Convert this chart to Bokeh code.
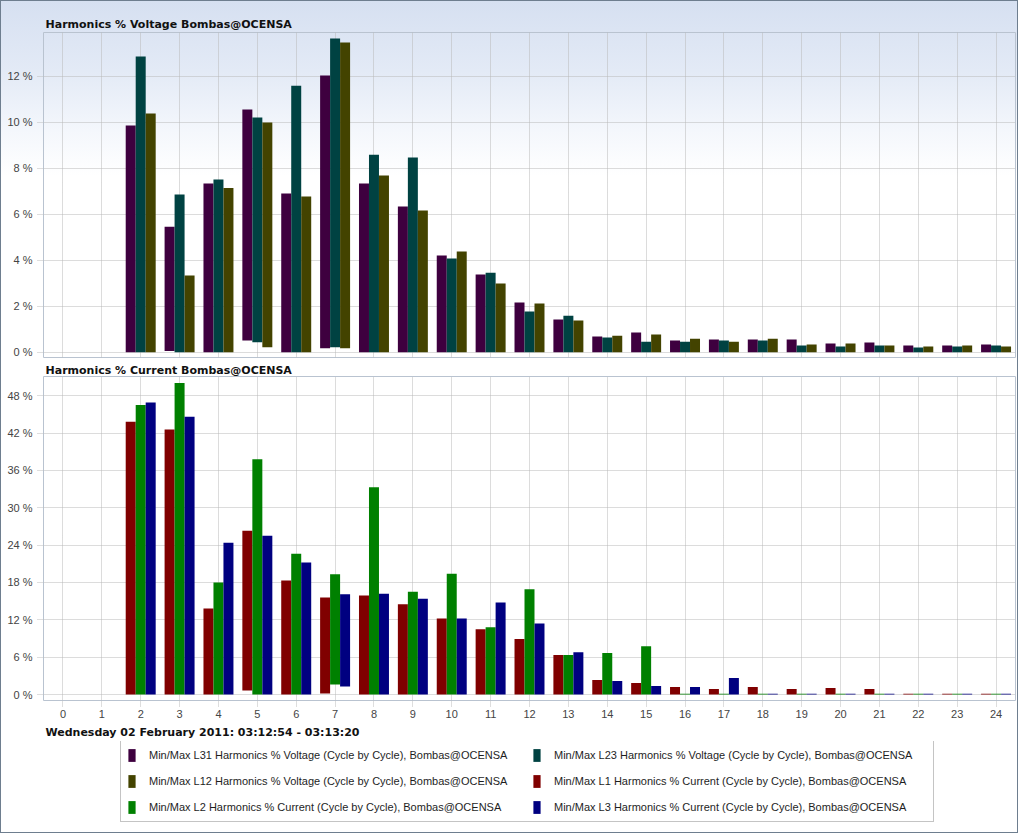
from bokeh.plotting import figure
from bokeh.models import (ColumnDataSource, Range1d, FixedTicker, Legend, LegendItem,
                          Title, PrintfTickFormatter)
from bokeh.transform import dodge
from bokeh.layouts import column
from bokeh.embed import file_html
from bokeh.resources import INLINE

nan = float("nan")
harmonics = list(range(25))

# Voltage harmonics (%), min / max per harmonic order
v_l31_max = [nan, nan, 9.86, 5.46, 7.33, 10.55, 6.90, 12.03, 7.33, 6.33, 4.20, 3.38, 2.16, 1.42,
             0.68, 0.86, 0.51, 0.55, 0.55, 0.55, 0.38, 0.42, 0.29, 0.29, 0.33]
v_l31_min = [nan, nan, 0, 0.05, 0, 0.51, 0, 0.17, 0, 0, 0, 0, 0, 0, 0, 0, 0, 0, 0, 0, 0, 0, 0, 0, 0]
v_l23_max = [nan, nan, 12.86, 6.86, 7.51, 10.20, 11.59, 13.64, 8.59, 8.46, 4.07, 3.46, 1.77, 1.59,
             0.64, 0.46, 0.46, 0.51, 0.51, 0.29, 0.25, 0.29, 0.20, 0.25, 0.29]
v_l23_min = [nan, nan, 0, 0, 0, 0.43, 0, 0.22, 0, 0, 0, 0, 0, 0, 0, 0, 0, 0, 0, 0, 0, 0, 0, 0, 0]
v_l12_max = [nan, nan, 10.38, 3.33, 7.14, 9.99, 6.77, 13.46, 7.68, 6.16, 4.38, 2.99, 2.12, 1.38,
             0.72, 0.77, 0.59, 0.46, 0.59, 0.33, 0.38, 0.29, 0.25, 0.29, 0.25]
v_l12_min = [nan, nan, 0, 0, 0, 0.22, 0, 0.17, 0, 0, 0, 0, 0, 0, 0, 0, 0, 0, 0, 0, 0, 0, 0, 0, 0]

# Current harmonics (%), min / max per harmonic order
i_l1_max = [nan, nan, 43.8, 42.55, 13.8, 26.3, 18.3, 15.6, 15.9, 14.5, 12.2, 10.5, 8.9, 6.33,
            2.34, 1.86, 1.22, 0.9, 1.22, 0.9, 1.06, 0.9, 0.12, 0.12, 0.12]
i_l1_min = [nan, nan, 0, 0, 0, 0.64, 0, 0.16, 0, 0, 0, 0, 0, 0, 0, 0, 0, 0, 0, 0, 0, 0, 0, 0, 0]
i_l2_max = [nan, nan, 46.5, 50.05, 17.98, 37.8, 22.6, 19.3, 33.3, 16.5, 19.4, 10.8, 16.9, 6.33,
            6.65, 7.77, 0.12, 0.12, 0.12, 0.12, 0.12, 0.12, 0.12, 0.12, 0.12]
i_l2_min = [nan, nan, 0, 0, 0, 0, 0, 1.6, 0, 0, 0, 0, 0, 0, 0, 0, 0, 0, 0, 0, 0, 0, 0, 0, 0]
i_l3_max = [nan, nan, 46.9, 44.6, 24.36, 25.5, 21.2, 16.1, 16.2, 15.4, 12.2, 14.8, 11.4, 6.8,
            2.18, 1.38, 1.22, 2.66, 0.12, 0.12, 0.12, 0.12, 0.12, 0.12, 0.12]
i_l3_min = [nan, nan, 0, 0, 0, 0, 0, 1.28, 0, 0, 0, 0, 0, 0, 0, 0, 0, 0, 0, 0, 0, 0, 0, 0, 0]

v_ticks = [0, 2, 4, 6, 8, 10, 12]
i_ticks = [0, 6, 12, 18, 24, 30, 36, 42, 48]

labels = {
    "l31": "Min/Max L31 Harmonics % Voltage (Cycle by Cycle), Bombas@OCENSA",
    "l23": "Min/Max L23 Harmonics % Voltage (Cycle by Cycle), Bombas@OCENSA",
    "l12": "Min/Max L12 Harmonics % Voltage (Cycle by Cycle), Bombas@OCENSA",
    "l1": "Min/Max L1 Harmonics % Current (Cycle by Cycle), Bombas@OCENSA",
    "l2": "Min/Max L2 Harmonics % Current (Cycle by Cycle), Bombas@OCENSA",
    "l3": "Min/Max L3 Harmonics % Current (Cycle by Cycle), Bombas@OCENSA",
}
colors = {"l31": "#3e003f", "l23": "#004242", "l12": "#434300",
          "l1": "#800000", "l2": "#008000", "l3": "#000080"}

title_top = "Harmonics % Voltage Bombas@OCENSA"
title_bottom = "Harmonics % Current Bombas@OCENSA"
date_text = "Wednesday 02 February 2011: 03:12:54 - 03:13:20"

BW = 0.257
TITLE_FONT = "DejaVu Sans"
LABEL_FONT = "Liberation Sans"


def style(p, ticks):
    p.outline_line_color = "#b9c3d0"
    p.background_fill_alpha = 0
    p.border_fill_alpha = 0
    for g in (p.xgrid, p.ygrid):
        g.grid_line_color = "#b8b8b8"
        g.grid_line_dash = "1 1"
    p.xaxis.ticker = FixedTicker(ticks=harmonics)
    p.yaxis.ticker = FixedTicker(ticks=ticks)
    p.yaxis.formatter = PrintfTickFormatter(format="%d %%")
    for ax in (p.xaxis, p.yaxis):
        ax.axis_line_color = None
        ax.major_tick_in = 0
        ax.major_tick_out = 6
        ax.major_tick_line_color = "#bdbdbd"
        ax.major_tick_line_dash = "1 1"
        ax.minor_tick_line_color = None
        ax.major_label_text_font = LABEL_FONT
        ax.major_label_text_font_size = "11px"
        ax.major_label_text_color = "#444444"
    p.xaxis.major_label_standoff = 3
    p.yaxis.major_label_standoff = 5
    p.title.text_font = TITLE_FONT
    p.title.text_font_size = "11px"
    p.title.text_font_style = "bold"
    p.title.text_color = "#111111"
    p.title.align = "left"
    p.title.offset = 2
    p.title.standoff = 4


p1 = figure(width=1016, height=359, x_range=Range1d(-0.5, 24.5), y_range=Range1d(-0.23, 13.9),
            output_backend="svg", toolbar_location=None, title=title_top,
            min_border_left=42, min_border_right=2, min_border_top=31, min_border_bottom=3)
style(p1, v_ticks)
p1.xaxis.visible = False

src_v = ColumnDataSource(dict(h=harmonics, l31_max=v_l31_max, l31_min=v_l31_min,
                              l23_max=v_l23_max, l23_min=v_l23_min,
                              l12_max=v_l12_max, l12_min=v_l12_min))
for key, off in (("l31", -BW), ("l23", 0), ("l12", BW)):
    p1.vbar(x=dodge("h", off), top=key + "_max", bottom=key + "_min", width=BW,
            source=src_v, fill_color=colors[key], line_color=None)

p2 = figure(width=1016, height=381, x_range=Range1d(-0.5, 24.5), y_range=Range1d(-0.96, 51.08),
            output_backend="svg", toolbar_location=None, title=title_bottom,
            min_border_left=42, min_border_right=2, min_border_top=16, min_border_bottom=39)
style(p2, i_ticks)
p2.title.standoff = 0

src_i = ColumnDataSource(dict(h=harmonics, l1_max=i_l1_max, l1_min=i_l1_min,
                              l2_max=i_l2_max, l2_min=i_l2_min,
                              l3_max=i_l3_max, l3_min=i_l3_min))
for key, off in (("l1", -BW), ("l2", 0), ("l3", BW)):
    p2.vbar(x=dodge("h", off), top=key + "_max", bottom=key + "_min", width=BW,
            source=src_i, fill_color=colors[key], line_color=None)

date_title = Title(text=date_text, align="left", offset=2, standoff=6,
                   text_font=TITLE_FONT, text_font_size="11px", text_font_style="bold",
                   text_color="#111111")
p2.add_layout(date_title, "below")

# legend panel
p3 = figure(width=1016, height=91, x_range=Range1d(0, 1), y_range=Range1d(0, 1),
            output_backend="svg", toolbar_location=None,
            x_axis_location=None, y_axis_location=None,
            min_border_left=0, min_border_right=0, min_border_top=0, min_border_bottom=0)
p3.grid.visible = False
p3.outline_line_color = None
p3.background_fill_alpha = 0
p3.border_fill_alpha = 0

order = ["l31", "l23", "l12", "l1", "l2", "l3"]
rends = {}
for key in order:
    rends[key] = p3.quad(left=[nan], right=[nan], top=[nan], bottom=[nan],
                         fill_color=colors[key], line_color=None)

legend = Legend(items=[LegendItem(label=labels[k], renderers=[rends[k]]) for k in order],
                orientation="horizontal", ncols=2, location=(77, 10), margin=0,
                padding=6, spacing=10, glyph_width=9, glyph_height=16, label_height=16,
                label_width=373, label_standoff=13,
                label_text_font=LABEL_FONT, label_text_font_size="11px",
                label_text_color="#1e1e1e",
                border_line_color="#8a8a8a", background_fill_color="white",
                background_fill_alpha=1)
p3.add_layout(legend)

page = column(p1, p2, p3, spacing=0,
              styles={"border": "1px solid #6e7e8f",
                      "background": "linear-gradient(to bottom, #d6e0f1 0px, #e3eaf6 70px, #f4f7fc 130px, #ffffff 175px, #ffffff 100%)"})

open("out.html", "w").write(file_html(page, INLINE))
